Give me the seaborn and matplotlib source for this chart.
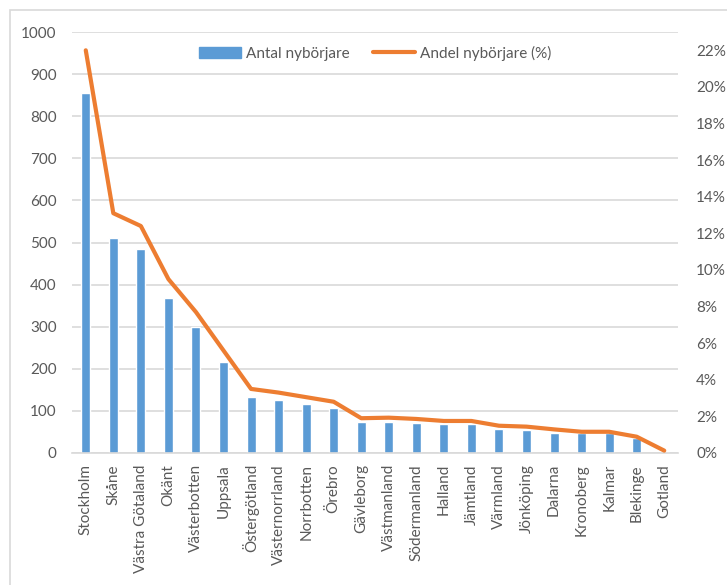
import numpy as np
import matplotlib
matplotlib.use("Agg")
import matplotlib.pyplot as plt
import seaborn as sns
from matplotlib.ticker import FuncFormatter
from matplotlib.patches import Rectangle
from matplotlib.lines import Line2D
from matplotlib.patches import Patch

regions = ["Stockholm", "Skåne", "Västra Götaland", "Okänt", "Västerbotten",
           "Uppsala", "Östergötland", "Västernorrland", "Norrbotten", "Örebro",
           "Gävleborg", "Västmanland", "Södermanland", "Halland", "Jämtland",
           "Värmland", "Jönköping", "Dalarna", "Kronoberg", "Kalmar",
           "Blekinge", "Gotland"]
antal = [854, 511, 485, 369, 300, 215, 134, 126, 116, 108, 74, 74, 72, 68, 68,
         57, 55, 48, 47, 47, 35, 3]
andel = [22.0, 13.1, 12.4, 9.5, 7.7, 5.6, 3.5, 3.3, 3.05, 2.8, 1.9, 1.93, 1.86,
         1.75, 1.75, 1.49, 1.44, 1.29, 1.16, 1.16, 0.89, 0.13]

bar_color = "#5B9BD5"
line_color = "#ED7D31"
text_color = "#595959"
grid_color = "#D9D9D9"

sns.set_style("white")
plt.rcParams["font.family"] = ["Lato", "DejaVu Sans"]

fig = plt.figure(figsize=(7.27, 5.85), dpi=100)
ax = fig.add_axes([72 / 727, 132 / 585, 606 / 727, 421 / 585])

# chart frame (cut off at right and bottom like the screenshot)
fig.patches.append(Rectangle((10 / 727, -0.05), 1.0, (575 / 585) + 0.05,
                             transform=fig.transFigure, fill=False,
                             edgecolor=grid_color, linewidth=1.2))

pos = np.arange(len(regions))
sns.barplot(x=pos, y=antal, color=bar_color, saturation=1, width=0.33,
            ax=ax, native_scale=True)
ax.set_xlim(-0.5, len(regions) - 0.5)
ax.set_ylim(0, 1000)
ax.set_yticks(np.arange(0, 1001, 100))
ax.yaxis.grid(True, color=grid_color, linewidth=1.2)
ax.set_axisbelow(True)
ax.set_xticks(pos)
ax.set_xticklabels(regions, rotation=90)
for s in ["left", "right", "top"]:
    ax.spines[s].set_visible(False)
ax.spines["bottom"].set_color(grid_color)
ax.spines["bottom"].set_linewidth(1.2)
ax.tick_params(axis="both", length=0, colors=text_color, labelsize=11)
ax.tick_params(axis="y", pad=11)
ax.tick_params(axis="x", pad=8)

ax2 = ax.twinx()
sns.lineplot(x=pos, y=np.array(andel) / 100, color=line_color, linewidth=3,
             sort=False, ax=ax2)
ax2.set_ylim(0, 0.23)
ax2.set_yticks(np.arange(0, 0.221, 0.02))
ax2.yaxis.set_major_formatter(FuncFormatter(lambda v, _: f"{v * 100:.0f}%"))
for s in ["left", "right", "top", "bottom"]:
    ax2.spines[s].set_visible(False)
ax2.tick_params(axis="y", length=0, colors=text_color, labelsize=11, pad=13)
ax2.set_xlim(-0.5, len(regions) - 0.5)

handles = [Patch(color=bar_color), Line2D([0], [0], color=line_color, linewidth=3)]
ax.legend(handles, ["Antal nybörjare", "Andel nybörjare (%)"],
          loc="upper center", bbox_to_anchor=(0.5, 1.0), ncol=2, frameon=False,
          fontsize=11, labelcolor=text_color, handlelength=2.8, handletextpad=0.3,
          columnspacing=1.5)

fig.savefig("out.png", dpi=100)
